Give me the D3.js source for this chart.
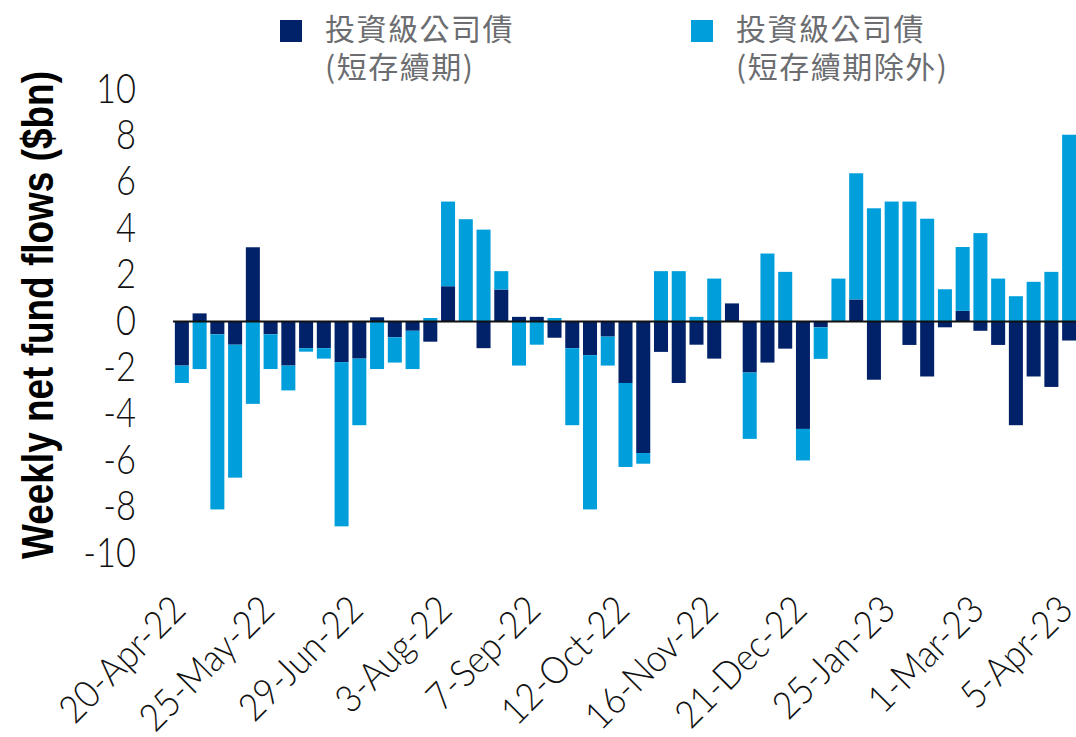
<!DOCTYPE html>
<html>
<head>
<meta charset="utf-8">
<script src="https://cdn.jsdelivr.net/npm/d3@7"></script>
<style>
    body { margin: 0; background: #fff; }
    svg { display: block; }
    .tick text { fill: #111; }
</style>
</head>
<body>
<div id="chart"></div>
<script>
// Weeks (Wednesday dates)
const weeks = [
    '20-Apr-22', '27-Apr-22', '4-May-22', '11-May-22', '18-May-22', '25-May-22',
    '1-Jun-22', '8-Jun-22', '15-Jun-22', '22-Jun-22', '29-Jun-22',
    '6-Jul-22', '13-Jul-22', '20-Jul-22', '27-Jul-22', '3-Aug-22',
    '10-Aug-22', '17-Aug-22', '24-Aug-22', '31-Aug-22', '7-Sep-22',
    '14-Sep-22', '21-Sep-22', '28-Sep-22', '5-Oct-22', '12-Oct-22',
    '19-Oct-22', '26-Oct-22', '2-Nov-22', '9-Nov-22', '16-Nov-22',
    '23-Nov-22', '30-Nov-22', '7-Dec-22', '14-Dec-22', '21-Dec-22',
    '28-Dec-22', '4-Jan-23', '11-Jan-23', '18-Jan-23', '25-Jan-23',
    '1-Feb-23', '8-Feb-23', '15-Feb-23', '22-Feb-23', '1-Mar-23',
    '8-Mar-23', '15-Mar-23', '22-Mar-23', '29-Mar-23', '5-Apr-23'
];

// IG short duration ($bn)
const shortDuration = [
    -1.9, 0.35, -0.55, -1.0, 3.2, -0.55, -1.9, -1.15, -1.15, -1.75,
    -1.6, 0.18, -0.68, -0.4, -0.87, 1.52, 0, -1.15, 1.38, 0.2,
    0.2, -0.7, -1.15, -1.45, -0.65, -2.65, -5.67, -1.31, -2.65, -1.0,
    -1.6, 0.78, -2.2, -1.77, -1.17, -4.63, -0.25, 0, 0.95, -2.51,
    0, -1.01, -2.37, -0.25, 0.46, -0.4, -1.01, -4.47, -2.37, -2.82,
    -0.82
];

// IG ex short duration ($bn)
const exShortDuration = [
    -0.75, -2.05, -7.55, -5.73, -3.55, -1.5, -1.07, -0.15, -0.45, -7.08,
    -2.87, -2.05, -1.09, -1.65, 0.15, 3.65, 4.41, 3.96, 0.79, -1.9,
    -1.0, 0.15, -3.32, -6.65, -1.25, -3.62, -0.46, 2.17, 2.17, 0.2,
    1.85, 0, -2.86, 2.93, 2.14, -1.36, -1.36, 1.85, 5.44, 4.88,
    5.17, 5.17, 4.43, 1.39, 2.75, 3.81, 1.85, 1.09, 1.71, 2.14,
    8.05
];

const xTickLabels = ['20-Apr-22', '25-May-22', '29-Jun-22', '3-Aug-22', '7-Sep-22',
    '12-Oct-22', '16-Nov-22', '21-Dec-22', '25-Jan-23', '1-Mar-23', '5-Apr-23'];
const yTicks = [10, 8, 6, 4, 2, 0, -2, -4, -6, -8, -10];

const seriesKeys = ['short', 'exShort'];
const seriesNames = [['投資級公司債', '(短存續期)'], ['投資級公司債', '(短存續期除外)']];
const colors = { short: '#012169', exShort: '#009fdb' };

// Layout
const width = 1076, height = 737;
const lightFont = "Lato, 'Liberation Sans', sans-serif";

const svg = d3.select('#chart').append('svg')
    .attr('width', width)
    .attr('height', height);

svg.append('rect').attr('width', width).attr('height', height).attr('fill', '#fff');

const table = weeks.map((w, i) => ({ week: w, short: shortDuration[i], exShort: exShortDuration[i] }));

const x = d3.scaleBand()
    .domain(weeks)
    .range([173, 1078])
    .paddingInner(0.21)
    .paddingOuter(0.105);

const y = d3.scaleLinear()
    .domain([-10, 10])
    .range([553.5, 89.5]);

const stacked = d3.stack()
    .keys(seriesKeys)
    .offset(d3.stackOffsetDiverging)(table);

// Bars
svg.append('g')
    .selectAll('g')
    .data(stacked)
    .join('g')
    .attr('fill', d => colors[d.key])
    .selectAll('rect')
    .data(d => d)
    .join('rect')
    .attr('x', d => x(d.data.week))
    .attr('width', x.bandwidth())
    .attr('y', d => y(Math.max(d[0], d[1])))
    .attr('height', d => Math.abs(y(d[0]) - y(d[1])));

// Zero line
svg.append('line')
    .attr('x1', 173).attr('x2', width)
    .attr('y1', y(0)).attr('y2', y(0))
    .attr('stroke', '#111')
    .attr('stroke-width', 2.2);

// squeeze texts so that a reference string gets a given width (condensed look)
function condense(sel, refText, refWidth) {
    let k = 1;
    sel.each(function() {
        if (this.textContent === refText) k = refWidth / this.getComputedTextLength();
    });
    sel.each(function() {
        const len = this.getComputedTextLength();
        d3.select(this).attr('textLength', len * k).attr('lengthAdjust', 'spacingAndGlyphs');
    });
}

// Y axis
const yAxis = svg.append('g')
    .attr('transform', 'translate(138,0)')
    .call(d3.axisLeft(y).tickValues(yTicks).tickSize(0).tickPadding(2).tickFormat(d3.format('d')));
yAxis.select('.domain').remove();
const yText = yAxis.selectAll('text')
    .attr('dy', '0.36em')
    .attr('y', -2.5)
    .style('font-family', lightFont)
    .style('font-weight', 300)
    .style('font-size', '42px')
    .text(d => d < 0 ? '-' + Math.abs(d) : d);
condense(yText, '10', 40);

// X axis
const xAxis = svg.append('g')
    .call(d3.axisBottom(x).tickValues(xTickLabels).tickSize(0));
xAxis.select('.domain').remove();
const xText = xAxis.selectAll('.tick text')
    .attr('text-anchor', 'end')
    .attr('dy', 0)
    .attr('y', 0)
    .attr('transform', 'translate(6,612) rotate(-45)')
    .style('font-family', lightFont)
    .style('font-weight', 300)
    .style('font-size', '38px');
condense(xText, '20-Apr-22', 160);

// Y title
svg.append('text')
    .attr('transform', 'translate(53,315) rotate(-90)')
    .attr('text-anchor', 'middle')
    .attr('textLength', 488)
    .attr('lengthAdjust', 'spacingAndGlyphs')
    .style('font-family', "'Liberation Sans', sans-serif")
    .style('font-weight', 'bold')
    .style('font-size', '45px')
    .attr('fill', '#000')
    .text('Weekly net fund flows ($bn)');

// Legend
const legendX = [280, 691];
const legend = svg.append('g')
    .selectAll('g')
    .data(seriesKeys)
    .join('g')
    .attr('transform', (d, i) => `translate(${legendX[i]},0)`);

legend.append('rect')
    .attr('x', 0).attr('y', 20)
    .attr('width', 22).attr('height', 22)
    .attr('fill', d => colors[d]);

legend.each(function(d, i) {
    const t = d3.select(this).append('text')
        .attr('x', 45)
        .attr('fill', '#6b6d70')
        .style('font-family', "'Noto Sans CJK TC', 'Noto Sans', sans-serif")
        .style('font-size', '30px')
        .style('letter-spacing', '1.5px');
    seriesNames[i].forEach((line, j) => {
        t.append('tspan')
            .attr('x', 45)
            .attr('y', 40 + j * 38)
            .text(line);
    });
});
</script>
</body>
</html>
